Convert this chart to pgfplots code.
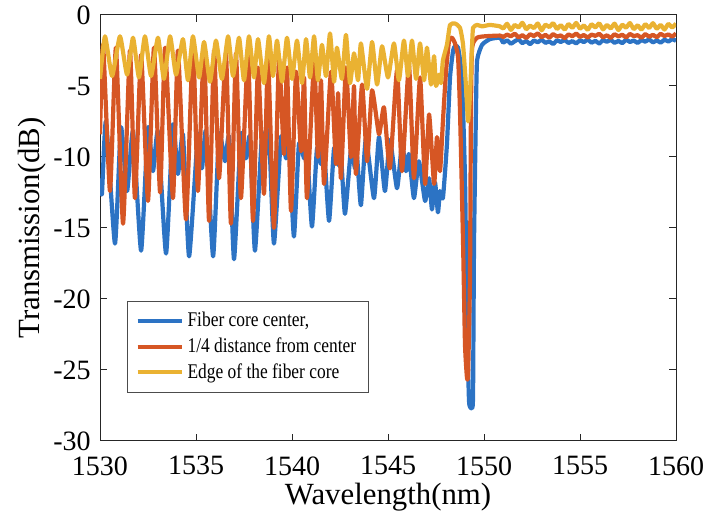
\documentclass[border=0pt]{standalone}
\usepackage{fontspec}
\setmainfont{Liberation Serif}
\usepackage{pgfplots}
\pgfplotsset{compat=1.18}

\definecolor{mblue}{RGB}{44,115,196}
\definecolor{morange}{RGB}{214,86,36}
\definecolor{myellow}{RGB}{234,178,50}

\newcommand{\legtxt}[1]{\scalebox{1}[1.2]{#1}}

\begin{document}
\begin{tikzpicture}
\begin{axis}[
    name=ax,
    scale only axis,
    width=288pt, height=213pt,
    xmin=1530, xmax=1560, ymin=-30, ymax=0,
    xtick={1530,1535,1540,1545,1550,1555,1560},
    xticklabels={1530,1535,1540,1545,1550,1555,1560},
    ytick={-30,-25,-20,-15,-10,-5,0},
    yticklabels={-30,-25,-20,-15,-10,-5,0},
    tick align=inside, xtick pos=both, ytick pos=both,
    major tick length=3.5pt,
    axis line style={black!85, line width=0.5pt},
    every tick/.style={black!85, line width=0.5pt},
    ticklabel style={font=\fontsize{14}{16}\selectfont, inner sep=1pt},
    xticklabel style={yshift=-6.5pt},
    yticklabel style={xshift=-3.5pt},
    xlabel={Wavelength(nm)}, ylabel={Transmission(dB)},
    label style={font=\fontsize{15.4}{18}\selectfont},
    xlabel style={at={(axis description cs:0.5,-0.131)}, anchor=center},
    ylabel style={at={(axis description cs:-0.118,0.5)}, anchor=center},
    legend style={at={(0.047,0.113)}, anchor=south west,
      draw=black!70, line width=0.5pt,
      font=\fontsize{8.7}{11}\selectfont,
      inner xsep=4pt, inner ysep=3.5pt, row sep=0pt},
    legend cell align=left,
    legend image code/.code={\draw[#1, line width=2pt] (0pt,0pt) -- (22pt,0pt);},
    every axis plot/.append style={line width=2.1pt, line join=round, smooth, tension=0.3},
  ]
\addplot[mblue] coordinates {
(1530.00,-11.5) (1530.10,-12.6) (1530.31,-7.5) (1530.78,-16.1) (1531.09,-7.9) (1531.41,-12.4)
(1531.72,-8.2) (1532.14,-16.6) (1532.50,-7.9) (1532.76,-11.0) (1533.02,-8.2) (1533.44,-16.8)
(1533.80,-7.7) (1534.06,-11.2) (1534.32,-8.4) (1534.64,-17.0) (1535.10,-8.4) (1535.31,-10.8)
(1535.52,-8.2) (1535.89,-17.0) (1536.20,-8.4) (1536.51,-10.3) (1536.72,-8.6) (1536.98,-17.2)
(1537.34,-8.4) (1537.60,-10.1) (1537.81,-8.6) (1538.07,-16.6) (1538.44,-8.4) (1538.65,-9.8)
(1538.80,-8.2) (1539.06,-16.1) (1539.43,-8.6) (1539.69,-10.1) (1539.84,-9.0) (1540.10,-15.6)
(1540.36,-9.1) (1540.63,-10.1) (1540.78,-9.4) (1541.04,-14.9) (1541.30,-9.4) (1541.51,-10.5)
(1541.67,-9.5) (1541.93,-14.5) (1542.19,-9.4) (1542.45,-10.6) (1542.55,-9.8) (1542.76,-14.0)
(1543.07,-9.5) (1543.28,-10.8) (1543.39,-10.0) (1543.59,-13.4) (1543.85,-8.7) (1544.27,-12.9)
(1544.53,-8.6) (1544.84,-12.4) (1545.10,-8.8) (1545.47,-12.2) (1545.73,-9.1) (1545.94,-11.0)
(1546.09,-9.8) (1546.35,-12.9) (1546.61,-10.3) (1546.93,-13.1) (1547.14,-11.5) (1547.29,-13.7)
(1547.45,-11.8) (1547.60,-13.9) (1547.71,-12.4) (1547.86,-12.9) (1548.07,-9.1) (1548.23,-4.4)
(1548.39,-2.5) (1548.49,-2.2) (1548.65,-2.3) (1548.85,-4.4) (1549.01,-11.5) (1549.11,-20.8)
(1549.22,-27.2) (1549.38,-27.7) (1549.43,-26.7) (1549.48,-16.1) (1549.58,-6.8) (1549.64,-3.2)
(1549.90,-2.1) (1550.31,-1.7) (1550.83,-1.6)
(1551.0,-1.95) (1551.2,-1.78) (1551.4,-2.02) (1551.6,-1.85) (1551.8,-1.72) (1552.0,-1.98)
(1552.2,-1.83) (1552.4,-2.05) (1552.6,-1.80) (1552.8,-1.92) (1553.0,-1.74) (1553.2,-1.96)
(1553.4,-1.86) (1553.6,-2.04) (1553.8,-1.79) (1554.0,-1.90) (1554.2,-1.76) (1554.4,-1.97)
(1554.6,-1.84) (1554.8,-2.00) (1555.0,-1.78) (1555.2,-1.91) (1555.4,-1.73) (1555.6,-1.95)
(1555.8,-1.82) (1556.0,-2.01) (1556.2,-1.77) (1556.4,-1.89) (1556.6,-1.75) (1556.8,-1.96)
(1557.0,-1.83) (1557.2,-1.98) (1557.4,-1.74) (1557.6,-1.90) (1557.8,-1.80) (1558.0,-1.97)
(1558.2,-1.76) (1558.4,-1.88) (1558.6,-1.72) (1558.8,-1.93) (1559.0,-1.79) (1559.2,-1.95)
(1559.4,-1.74) (1559.6,-1.87) (1559.8,-1.70) (1560.0,-1.82)
};
\addlegendentry{\legtxt{Fiber core center,}}
\addplot[morange] coordinates {
(1530.00,-8.4) (1530.16,-2.1) (1530.52,-12.4) (1530.83,-2.3) (1531.20,-14.7) (1531.56,-2.5)
(1531.82,-12.9) (1532.14,-2.8) (1532.50,-13.1) (1532.81,-2.3) (1533.13,-12.5) (1533.39,-2.3)
(1533.80,-12.9) (1534.06,-2.5) (1534.48,-14.4) (1534.84,-2.1) (1535.10,-12.4) (1535.42,-2.3)
(1535.68,-14.5) (1535.94,-2.5) (1536.20,-11.5) (1536.56,-2.7) (1536.82,-14.7) (1537.08,-2.7)
(1537.34,-12.9) (1537.71,-2.8) (1537.97,-14.5) (1538.23,-3.7) (1538.54,-12.6) (1538.75,-3.0)
(1539.06,-15.0) (1539.32,-3.1) (1539.58,-9.8) (1539.74,-3.7) (1539.95,-13.8) (1540.21,-4.0)
(1540.47,-9.6) (1540.63,-4.4) (1540.78,-12.9) (1541.15,-3.3) (1541.35,-10.0) (1541.51,-4.6)
(1541.67,-11.9) (1542.03,-4.0) (1542.29,-10.5) (1542.40,-5.5) (1542.55,-11.5) (1542.81,-3.7)
(1543.07,-10.0) (1543.23,-5.0) (1543.33,-11.2) (1543.65,-4.9) (1543.91,-10.3) (1544.17,-5.3)
(1544.53,-8.4) (1544.79,-6.5) (1545.10,-10.8) (1545.47,-3.9) (1545.73,-11.0) (1546.09,-3.5)
(1546.35,-11.5) (1546.67,-4.4) (1546.93,-11.9) (1547.14,-7.0) (1547.40,-11.9) (1547.55,-8.6)
(1547.71,-11.0) (1547.86,-7.5) (1548.02,-4.0) (1548.18,-1.8) (1548.33,-1.6) (1548.49,-2.0)
(1548.65,-3.0) (1548.75,-6.8) (1548.91,-16.1) (1549.01,-23.2) (1549.11,-25.5) (1549.17,-25.3)
(1549.27,-18.5) (1549.32,-6.8) (1549.38,-2.3) (1549.64,-1.6) (1550.05,-1.5) (1550.83,-1.45)
(1551.0,-1.55) (1551.2,-1.38) (1551.4,-1.50) (1551.6,-1.32) (1551.8,-1.58) (1552.0,-1.42)
(1552.2,-1.62) (1552.4,-1.36) (1552.6,-1.48) (1552.8,-1.30) (1553.0,-1.56) (1553.2,-1.40)
(1553.4,-1.60) (1553.6,-1.35) (1553.8,-1.52) (1554.0,-1.44) (1554.2,-1.63) (1554.4,-1.37)
(1554.6,-1.50) (1554.8,-1.31) (1555.0,-1.54) (1555.2,-1.41) (1555.4,-1.59) (1555.6,-1.38)
(1555.8,-1.47) (1556.0,-1.33) (1556.2,-1.57) (1556.4,-1.43) (1556.6,-1.61) (1556.8,-1.36)
(1557.0,-1.51) (1557.2,-1.39) (1557.4,-1.58) (1557.6,-1.34) (1557.8,-1.49) (1558.0,-1.42)
(1558.2,-1.60) (1558.4,-1.35) (1558.6,-1.53) (1558.8,-1.40) (1559.0,-1.56) (1559.2,-1.33)
(1559.4,-1.48) (1559.6,-1.37) (1559.8,-1.52) (1560.0,-1.30)
};
\addlegendentry{\legtxt{1/4 distance from center}}
\addplot[myellow] coordinates {
(1530.00,-4.5) (1530.26,-1.5) (1530.63,-4.3) (1531.04,-1.5) (1531.41,-4.2) (1531.72,-1.6)
(1532.03,-4.4) (1532.34,-1.5) (1532.66,-4.3) (1533.02,-1.6) (1533.33,-4.5) (1533.65,-1.5)
(1533.96,-4.2) (1534.32,-1.7) (1534.58,-4.6) (1534.84,-1.5) (1535.16,-4.4) (1535.42,-1.9)
(1535.73,-4.7) (1536.04,-1.8) (1536.35,-4.5) (1536.67,-1.5) (1536.93,-4.3) (1537.24,-1.6)
(1537.50,-4.6) (1537.76,-1.5) (1538.02,-4.4) (1538.23,-1.7) (1538.54,-4.8) (1538.80,-1.5)
(1539.01,-4.3) (1539.22,-1.8) (1539.48,-4.7) (1539.74,-1.6) (1540.00,-4.5) (1540.26,-1.8)
(1540.52,-4.8) (1540.73,-1.7) (1540.94,-4.4) (1541.15,-1.5) (1541.35,-4.6) (1541.56,-2.1)
(1541.77,-4.3) (1541.98,-1.3) (1542.19,-4.7) (1542.34,-2.3) (1542.60,-4.5) (1542.81,-1.4)
(1543.02,-4.8) (1543.23,-2.7) (1543.44,-4.6) (1543.59,-2.0) (1543.91,-5.2) (1544.17,-1.9)
(1544.43,-4.9) (1544.69,-2.2) (1545.00,-4.4) (1545.31,-2.0) (1545.57,-4.6) (1545.83,-1.8)
(1546.04,-4.3) (1546.25,-1.8) (1546.46,-4.5) (1546.67,-2.0) (1546.88,-4.6) (1547.03,-2.3)
(1547.24,-4.9) (1547.40,-2.9) (1547.50,-5.0) (1547.66,-4.2) (1547.76,-4.8) (1547.86,-3.2)
(1548.07,-2.1) (1548.23,-0.7) (1548.49,-0.6) (1548.75,-0.9) (1548.91,-2.1) (1549.06,-5.0)
(1549.17,-7.5) (1549.27,-5.6) (1549.38,-2.1) (1549.43,-0.9) (1549.64,-0.7) (1549.90,-0.8)
(1550.31,-0.7) (1550.83,-0.8)
(1551.0,-0.95) (1551.2,-0.62) (1551.4,-1.05) (1551.6,-0.70) (1551.8,-0.88) (1552.0,-0.55)
(1552.2,-1.00) (1552.4,-0.75) (1552.6,-0.92) (1552.8,-0.60) (1553.0,-1.08) (1553.2,-0.68)
(1553.4,-0.85) (1553.6,-0.58) (1553.8,-0.98) (1554.0,-0.72) (1554.2,-1.02) (1554.4,-0.64)
(1554.6,-0.90) (1554.8,-0.56) (1555.0,-0.96) (1555.2,-0.74) (1555.4,-1.04) (1555.6,-0.66)
(1555.8,-0.87) (1556.0,-0.59) (1556.2,-1.01) (1556.4,-0.71) (1556.6,-0.94) (1556.8,-0.61)
(1557.0,-1.06) (1557.2,-0.69) (1557.4,-0.89) (1557.6,-0.57) (1557.8,-0.99) (1558.0,-0.73)
(1558.2,-1.03) (1558.4,-0.65) (1558.6,-0.91) (1558.8,-0.58) (1559.0,-0.97) (1559.2,-0.70)
(1559.4,-1.02) (1559.6,-0.63) (1559.8,-0.88) (1560.0,-0.60)
};
\addlegendentry{\legtxt{Edge of the fiber core}}
\end{axis}
\pgfresetboundingbox
\path ([shift={(-50pt,-40pt)}]ax.south west) rectangle ([shift={(14.5pt,7.5pt)}]ax.north east);
\end{tikzpicture}
\end{document}
